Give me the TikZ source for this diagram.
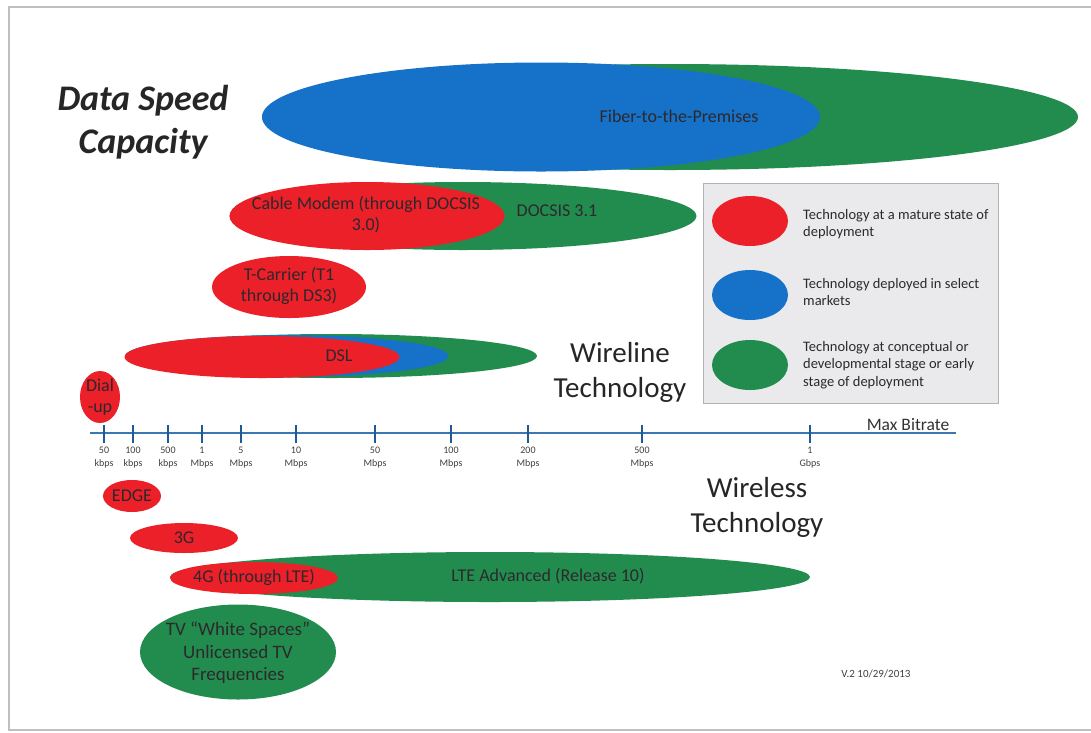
\documentclass[tikz,border=0pt]{standalone}
\usepackage{fontspec}
\setmainfont{Carlito}
\usetikzlibrary{shapes.geometric}
\definecolor{tred}{RGB}{236,32,40}
\definecolor{tblue}{RGB}{22,114,200}
\definecolor{tgreen}{RGB}{34,140,78}
\definecolor{axisblue}{RGB}{60,120,175}
\definecolor{tickblue}{RGB}{30,90,150}
\definecolor{txt}{RGB}{45,40,45}
\definecolor{legbg}{RGB}{234,234,236}
\tikzset{
  blob/.style={ellipse, inner sep=0pt, draw=none},
  redb/.style={blob, fill=tred},
  blueb/.style={blob, fill=tblue},
  greenb/.style={blob, fill=tgreen},
  lbl/.style={text=txt, font=\fontsize{18}{21}\selectfont, align=center, inner sep=0pt},
  big/.style={text=black!85, font=\fontsize{29}{35}\selectfont, align=center, inner sep=0pt},
  ticklbl/.style={text=black!75, font=\fontsize{10}{12.5}\selectfont, align=center, inner sep=0pt, anchor=north},
  legtxt/.style={text=txt, font=\fontsize{14.5}{17.5}\selectfont, align=left, anchor=west, inner sep=0pt},
  tickmark/.style={draw=tickblue, line width=2.2pt},
}
\begin{document}
\begin{tikzpicture}[x=1pt,y=-1pt]
\useasboundingbox (0,0) rectangle (1091,732);
\fill[white] (0,0) rectangle (1091,732);
% page edge
\draw[black!25, line width=1.2pt] (1091,7) -- (9,7) -- (9,730) -- (1091,730);
% title
\node[font=\fontsize{36}{43}\selectfont\bfseries\itshape, text=black!85, align=center, inner sep=0pt] (title) at (143,122) {Data Speed\\Capacity};
% Fiber
\node[greenb, minimum width=816pt, minimum height=106pt] (ftpg) at (670,117) {};
\node[blueb, minimum width=558pt, minimum height=109pt] (ftpb) at (541,117) {};
\node[lbl] (ftpt) at (679,116) {Fiber-to-the-Premises};
% Cable
\node[greenb, minimum width=467pt, minimum height=68pt] (docg) at (463,216) {};
\node[redb, minimum width=275pt, minimum height=68pt] (docr) at (367,216) {};
\node[lbl] (doct) at (366,215) {Cable Modem (through DOCSIS\\3.0)};
\node[lbl] (doc31) at (557,211) {DOCSIS 3.1};
% T-carrier
\node[redb, minimum width=154pt, minimum height=62pt] (tc) at (289,287) {};
\node[lbl] (tct) at (289,286) {T-Carrier (T1\\through DS3)};
% DSL
\node[greenb, minimum width=412pt, minimum height=44pt] (dslg) at (331,356) {};
\node[blueb, minimum width=323pt, minimum height=42pt] (dslb) at (287,356) {};
\node[redb, minimum width=275pt, minimum height=42pt] (dslr) at (262,357) {};
\node[lbl] (dslt) at (339,356) {DSL};
% Dial-up
\node[redb, minimum width=40pt, minimum height=52pt] (dial) at (100,397) {};
\node[lbl] (dialt) at (100,397) {Dial\\-up};
% Wireline
\node[big] (wireline) at (620,372) {Wireline\\Technology};
% Legend
\node[draw=black!30, fill=legbg, line width=1pt, minimum width=295pt, minimum height=220pt, inner sep=0pt] (legend) at (850.5,293) {};
\node[redb, minimum width=76pt, minimum height=50pt] (legr) at (750,221) {};
\node[blueb, minimum width=76pt, minimum height=50pt] (legb) at (750,295) {};
\node[greenb, minimum width=76pt, minimum height=50pt] (legg) at (750,365) {};
\node[legtxt] (legrt) at (803,224) {Technology at a mature state of\\deployment};
\node[legtxt] (legbt) at (803,292) {Technology deployed in select\\markets};
\node[legtxt] (leggt) at (803,365) {Technology at conceptual or\\developmental stage or early\\stage of deployment};
% axis
\coordinate (ax0) at (90,433);
\coordinate (ax1) at (956,433);
\draw[axisblue, line width=1.4pt] (ax0) -- (ax1);
\node[text=black!80, font=\fontsize{17.5}{20}\selectfont, anchor=base, inner sep=0pt] (maxb) at (908,430) {Max Bitrate};
\foreach \x/\a/\b [count=\i] in {104/50/kbps,133/100/kbps,168/500/kbps,202/1/Mbps,241/5/Mbps,296/10/Mbps,375/50/Mbps,451/100/Mbps,528/200/Mbps,642/500/Mbps,810/1/Gbps}{
  \coordinate (t\i a) at (\x,425);
  \coordinate (t\i b) at (\x,443);
  \draw[tickmark] (t\i a) -- (t\i b);
  \node[ticklbl] (tl\i) at (\x,447) {\a\\\b};
}
% Wireless
\node[big] (wireless) at (757,507) {Wireless\\Technology};
\node[redb, minimum width=58pt, minimum height=32pt] (edge) at (132,496) {};
\node[lbl] (edget) at (132,496) {EDGE};
\node[redb, minimum width=108pt, minimum height=30pt] (g3) at (184,538) {};
\node[lbl] (g3t) at (184,538) {3G};
\node[greenb, minimum width=640pt, minimum height=50pt] (lteg) at (490,577) {};
\node[redb, minimum width=168pt, minimum height=32pt] (lter) at (254,578) {};
\node[lbl] (ltert) at (254,577) {4G (through LTE)};
\node[lbl] (ltegt) at (548,576) {LTE Advanced (Release 10)};
\node[greenb, minimum width=196pt, minimum height=95pt] (tv) at (238,652) {};
\node[lbl, font=\fontsize{19}{22.5}\selectfont] (tvt) at (238,653) {TV ``White Spaces''\\Unlicensed TV\\Frequencies};
\node[text=black!75, font=\fontsize{11}{13}\selectfont, inner sep=0pt] (ver) at (876,674) {V.2 10/29/2013};
\end{tikzpicture}
\end{document}
